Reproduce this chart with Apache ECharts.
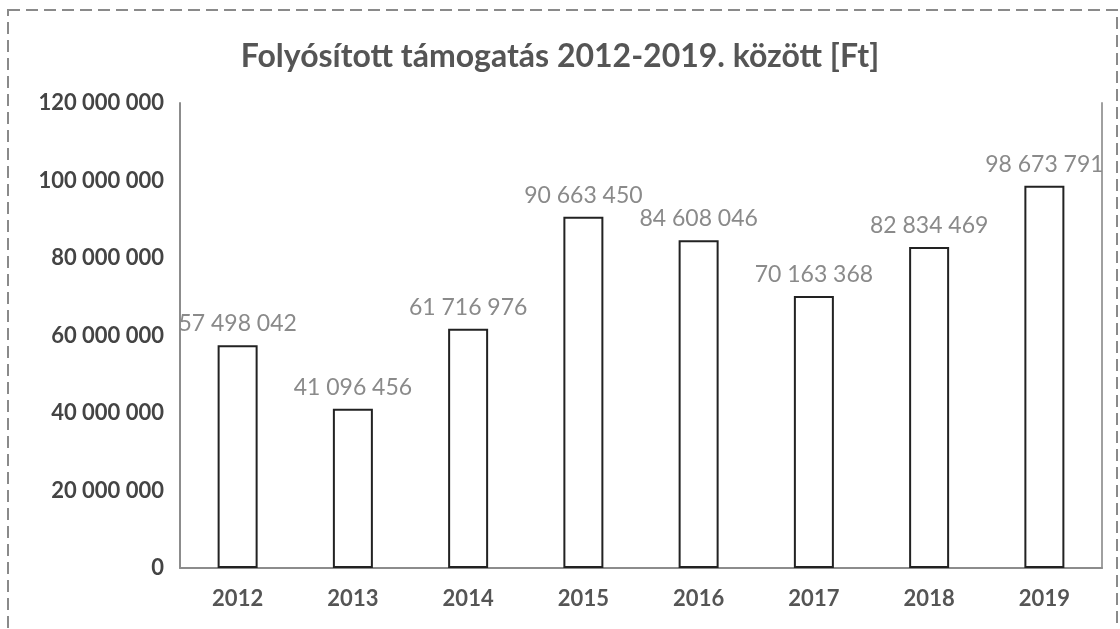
<!DOCTYPE html>
<html>
<head>
<meta charset="utf-8">
<script src="https://cdn.jsdelivr.net/npm/echarts@6/dist/echarts.min.js"></script>
<style>
  html, body { margin: 0; padding: 0; background: #fff; }
  #chart { width: 1120px; height: 629px; }
</style>
</head>
<body>
<div id="chart"></div>
<script>
const title = 'Folyósított támogatás 2012-2019. között [Ft]'
const years = ['2012', '2013', '2014', '2015', '2016', '2017', '2018', '2019']
const amounts = [57498042, 41096456, 61716976, 90663450, 84608046, 70163368, 82834469, 98673791]
const yTicks = { min: 0, max: 120000000, interval: 20000000 }

// 120000000 -> "120 000 000"
const spaced = v => String(v).replace(/\B(?=(\d{3})+(?!\d))/g, ' ')

const chart = echarts.init(document.getElementById('chart'))

chart.setOption({
  backgroundColor: '#ffffff',
  textStyle: { fontFamily: 'Lato' },
  title: {
    text: title,
    left: 'center',
    top: 36,
    textStyle: { fontFamily: 'Lato', fontWeight: 'bold', fontSize: 32, color: '#555555' }
  },
  graphic: [{
    type: 'rect',
    shape: { x: 8, y: 10, width: 1109, height: 640 },
    style: { fill: 'none', stroke: '#8a8a8a', lineWidth: 2, lineDash: [12, 6] },
    silent: true
  }],
  grid: { left: 180, right: 18, top: 103, bottom: 61 },
  xAxis: [{
    type: 'category',
    data: years,
    axisLine: { show: false },
    axisTick: { show: false },
    axisLabel: { margin: 20, fontSize: 22, fontWeight: 'bold', color: '#555555' }
  }, {
    type: 'category',
    position: 'top',
    data: years,
    axisLine: { show: true, lineStyle: { color: '#8c8c8c', width: 2 } },
    axisTick: { show: false },
    axisLabel: { show: false }
  }],
  yAxis: [{
    type: 'value',
    min: yTicks.min,
    max: yTicks.max,
    interval: yTicks.interval,
    axisLine: { show: true, lineStyle: { color: '#8c8c8c', width: 2 } },
    axisTick: { show: false },
    splitLine: { show: false },
    axisLabel: {
      margin: 16,
      fontSize: 22,
      fontWeight: 'bold',
      color: '#444444',
      formatter: v => spaced(v)
    }
  }, {
    type: 'value',
    position: 'right',
    min: yTicks.min,
    max: yTicks.max,
    interval: yTicks.interval,
    axisLine: { show: true, lineStyle: { color: '#a0a0a0', width: 2 } },
    axisTick: { show: false },
    splitLine: { show: false },
    axisLabel: { show: false }
  }],
  series: [{
    type: 'bar',
    data: amounts,
    barWidth: 40,
    itemStyle: { color: '#ffffff', borderColor: '#222222', borderWidth: 2 },
    label: {
      show: true,
      position: 'top',
      distance: 10,
      fontSize: 23,
      color: '#8a8a8a',
      formatter: p => spaced(p.value)
    }
  }]
})
</script>
</body>
</html>
